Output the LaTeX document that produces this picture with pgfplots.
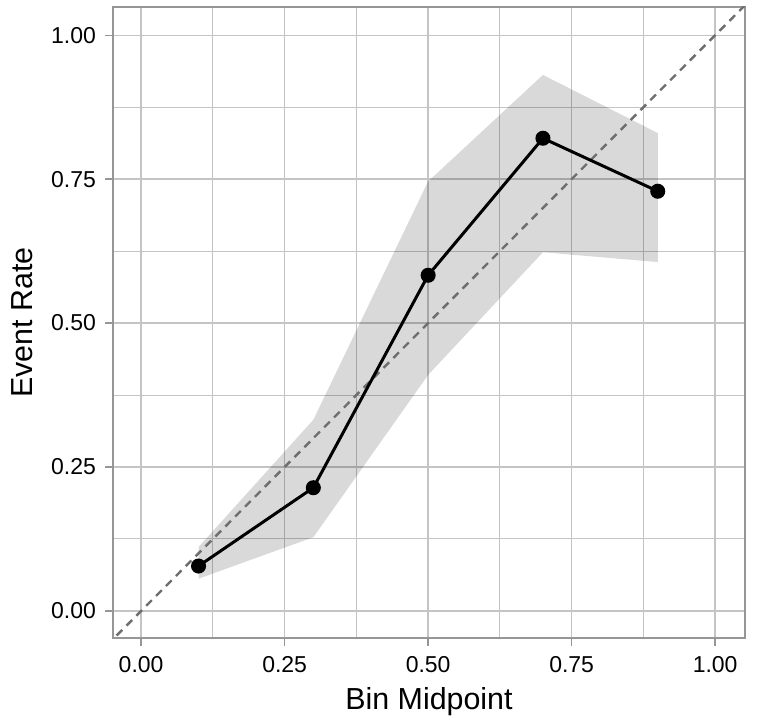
\documentclass[border=0pt]{standalone}
\usepackage{pgfplots}
\pgfplotsset{compat=1.18}
\usepackage{fontspec}
\setmainfont{Liberation Sans}
\definecolor{gridgray}{RGB}{196,196,196}
\definecolor{bordergray}{RGB}{150,150,150}
\definecolor{diaggray}{RGB}{110,110,110}

\begin{document}
\begin{tikzpicture}
\begin{axis}[
  at={(0,0)}, anchor=south west,
  scale only axis,
  width=316pt, height=315.5pt,
  xmin=-0.049, xmax=1.052,
  ymin=-0.047, ymax=1.049,
  xtick={0,0.25,0.5,0.75,1},
  ytick={0,0.25,0.5,0.75,1},
  minor xtick={0.125,0.375,0.625,0.875},
  minor ytick={0.125,0.375,0.625,0.875},
  grid=both,
  major grid style={gridgray, line width=0.7pt},
  minor grid style={gridgray, line width=0.5pt},
  axis line style={bordergray, line width=0.8pt},
  tick style={bordergray, line width=0.7pt},
  major tick length=4pt,
  minor tick length=0pt,
  tick align=outside,
  xtick pos=bottom, ytick pos=left,
  /pgf/number format/assume math mode=true,
  /pgf/number format/.cd, fixed, fixed zerofill, precision=2,
  /pgfplots/.cd,
  ticklabel style={font=\fontsize{11.5}{13}\selectfont, text=black},
  xticklabel style={yshift=-1.5pt},
  yticklabel style={xshift=-1pt},
  xlabel={Bin Midpoint},
  ylabel={Event Rate},
  label style={font=\fontsize{15.2}{17}\selectfont},
  xlabel style={yshift=-0.5pt},
  ylabel style={yshift=2.5pt},
]
% confidence band around the observed event rate
\addplot[draw=none, fill=black, fill opacity=0.15] coordinates {
  (0.1,0.111) (0.3,0.332) (0.5,0.746) (0.7,0.931) (0.9,0.830)
  (0.9,0.606) (0.7,0.623) (0.5,0.410) (0.3,0.128) (0.1,0.056)
} -- cycle;
% perfect calibration reference
\addplot[diaggray, line width=1.2pt, dash pattern=on 4pt off 3pt] coordinates {
  (-0.06,-0.06) (1.06,1.06)
};
% observed event rate per bin
\addplot[black, line width=1.5pt, mark=*, mark size=3pt] coordinates {
  (0.1,0.078) (0.3,0.214) (0.5,0.583) (0.7,0.821) (0.9,0.729)
};
\end{axis}
\pgfresetboundingbox
\path[use as bounding box] (-56.5pt,-42pt) rectangle (324pt,319pt);
\end{tikzpicture}
\end{document}
